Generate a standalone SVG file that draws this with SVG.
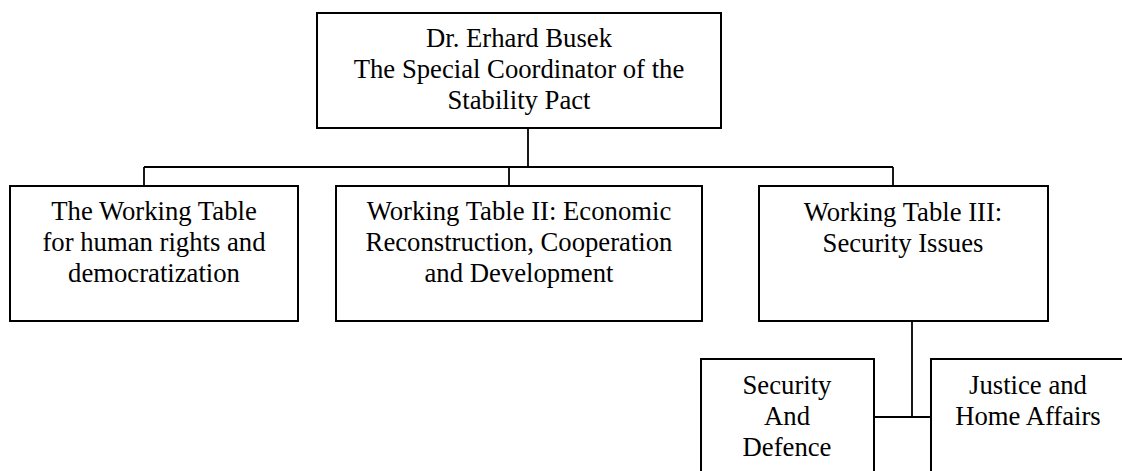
<svg xmlns="http://www.w3.org/2000/svg" width="1122" height="471" viewBox="0 0 1122 471">
  <style>
    .box { fill: #ffffff; stroke: #000000; stroke-width: 2; }
    .lbl { font-family: "Liberation Serif", "Times New Roman", serif; font-size: 26.7px; fill: #000000; text-anchor: middle; }
    .wire { fill: none; stroke: #000000; stroke-width: 1.8; }
  </style>
  <rect width="1122" height="471" fill="#ffffff"/>

  <!-- connectors -->
  <g id="connectors">
    <path class="wire" d="M528 128 V167"/>
    <path class="wire" d="M144 167 H893"/>
    <path class="wire" d="M144 167 V186"/>
    <path class="wire" d="M509 167 V186"/>
    <path class="wire" d="M893 167 V186"/>
    <path class="wire" d="M912 321 V417"/>
    <path class="wire" d="M874 417 H931"/>
  </g>

  <g id="coordinator">
    <rect class="box" x="317" y="13" width="404" height="115"/>
    <text class="lbl" x="519" y="47">Dr. Erhard Busek</text>
    <text class="lbl" x="519" y="78">The Special Coordinator of the</text>
    <text class="lbl" x="519" y="109">Stability Pact</text>
  </g>

  <g id="table-1">
    <rect class="box" x="10" y="186" width="288" height="135"/>
    <text class="lbl" x="154" y="220">The Working Table</text>
    <text class="lbl" x="154" y="251">for human rights and</text>
    <text class="lbl" x="154" y="282">democratization</text>
  </g>

  <g id="table-2">
    <rect class="box" x="336" y="186" width="366" height="135"/>
    <text class="lbl" x="519" y="220">Working Table II: Economic</text>
    <text class="lbl" x="519" y="251">Reconstruction, Cooperation</text>
    <text class="lbl" x="519" y="282">and Development</text>
  </g>

  <g id="table-3">
    <rect class="box" x="759" y="186" width="289" height="135"/>
    <text class="lbl" x="903" y="221">Working Table III:</text>
    <text class="lbl" x="903" y="252">Security Issues</text>
  </g>

  <g id="security-defence">
    <rect class="box" x="701" y="359" width="173" height="130"/>
    <text class="lbl" x="787" y="394">Security</text>
    <text class="lbl" x="787" y="425">And</text>
    <text class="lbl" x="787" y="456">Defence</text>
  </g>

  <g id="justice-home">
    <rect class="box" x="931" y="359" width="194" height="130"/>
    <text class="lbl" x="1028" y="394">Justice and</text>
    <text class="lbl" x="1028" y="425">Home Affairs</text>
  </g>
</svg>
